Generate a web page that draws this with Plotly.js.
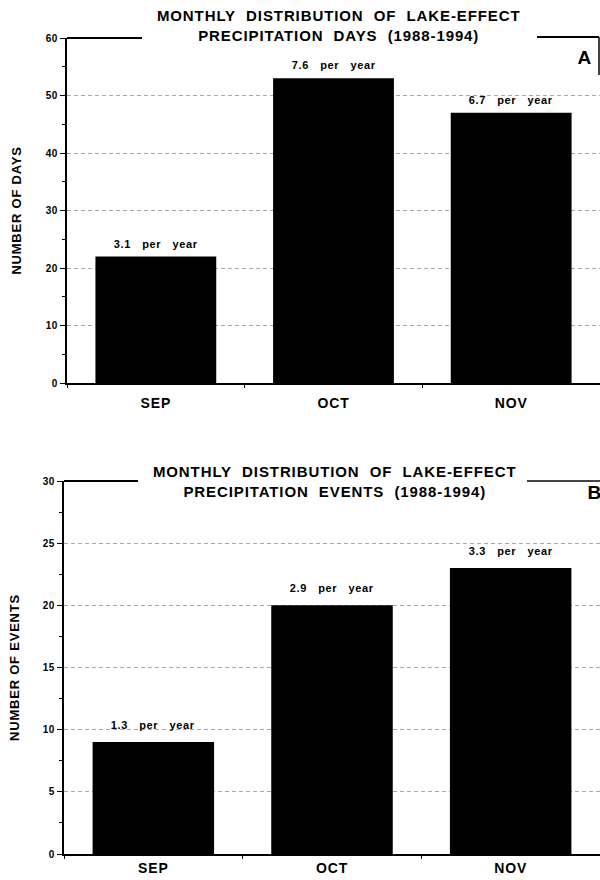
<!DOCTYPE html>
<html>
<head>
<meta charset="utf-8">
<script src="https://cdn.plot.ly/plotly-3.0.1.min.js"></script>
<style>
html,body{margin:0;padding:0;background:#fff;}
#chart{width:600px;height:880px;}
#chart svg text{letter-spacing:0.06em;}
</style>
</head>
<body>
<div id="chart"></div>
<script>
var months = ["SEP", "OCT", "NOV"];
var daysCounts = [22, 53, 47];
var daysPerYear = ["3.1", "7.6", "6.7"];
var eventCounts = [9, 20, 23];
var eventsPerYear = ["1.3", "2.9", "3.3"];
var titleA = "MONTHLY\u00a0 DISTRIBUTION\u00a0 OF\u00a0 LAKE-EFFECT<br>PRECIPITATION\u00a0 DAYS\u00a0 (1988-1994)";
var titleB = "MONTHLY\u00a0 DISTRIBUTION\u00a0 OF\u00a0 LAKE-EFFECT<br>PRECIPITATION\u00a0 EVENTS\u00a0 (1988-1994)";

var FONT = "Liberation Sans, Arial, Helvetica, sans-serif";
function lbl(v){ return v + "\u00a0\u00a0 per\u00a0\u00a0 year"; }

var W = 600, H = 880;
function px(x){ return x / W; }
function py(y){ return 1 - y / H; }

var barCommon = {
  type: "bar",
  marker: {color: "#000", line: {width: 0}},
  width: 0.68,
  hoverinfo: "skip",
  showlegend: false
};

var t1 = Object.assign({}, barCommon, {x: months, y: daysCounts, xaxis: "x", yaxis: "y"});
var t2 = Object.assign({}, barCommon, {x: months, y: eventCounts, xaxis: "x2", yaxis: "y2"});

function yax(domain, range, dtick, title, standoff){
  return {
    domain: domain, range: range, dtick: dtick, tick0: 0,
    showline: true, linecolor: "#000", linewidth: 2,
    ticks: "outside", ticklen: 5, tickwidth: 1, tickcolor: "#000",
    minor: {dtick: dtick/2, ticks: "outside", ticklen: 3, tickcolor: "#000", showgrid: false},
    showgrid: true, gridcolor: "#a8a8a8", gridwidth: 1, griddash: "4px,3px",
    zeroline: false,
    tickfont: {family: FONT, size: 10, color: "#000", weight: "bold"},
    title: {text: title, font: {family: FONT, size: 13, color: "#000", weight: "bold"}, standoff: standoff},
    fixedrange: true
  };
}
function xax(domain, anchor, standoff){
  return {
    domain: domain, anchor: anchor, range: [-0.5, 2.5],
    showline: true, linecolor: "#000", linewidth: 2,
    ticks: "outside", tickson: "boundaries", ticklen: 3, tickcolor: "#000",
    showgrid: false, zeroline: false,
    tickfont: {family: FONT, size: 14, color: "#000", weight: "bold"},
    ticklabelstandoff: standoff,
    fixedrange: true
  };
}

var labelFont = {family: FONT, size: 11, color: "#000", weight: "bold"};
var annotations = [
  {xref: "paper", yref: "paper", x: px(338), y: py(26), xanchor: "center", yanchor: "middle", text: titleA, showarrow: false,
   font: {family: FONT, size: 15, color: "#000", weight: "bold"}, align: "center"},
  {xref: "paper", yref: "paper", x: px(585), y: py(57), xanchor: "center", yanchor: "middle", text: "A", showarrow: false,
   font: {family: FONT, size: 19, color: "#000", weight: "bold"}},
  {xref: "paper", yref: "paper", x: px(334), y: py(481), xanchor: "center", yanchor: "middle", text: titleB, showarrow: false,
   font: {family: FONT, size: 15, color: "#000", weight: "bold"}, align: "center"},
  {xref: "paper", yref: "paper", x: px(586), xanchor: "left", y: py(493), yanchor: "middle", text: "B", showarrow: false,
   font: {family: FONT, size: 19, color: "#000", weight: "bold"}}
];
months.forEach(function(m, i){
  annotations.push({xref: "x", yref: "y", x: m, y: daysCounts[i], yanchor: "bottom", yshift: 5,
    text: lbl(daysPerYear[i]), showarrow: false, font: labelFont});
  annotations.push({xref: "x2", yref: "y2", x: m, y: eventCounts[i], yanchor: "bottom", yshift: 9,
    text: lbl(eventsPerYear[i]), showarrow: false, font: labelFont});
});

var layout = {
  width: W, height: H,
  margin: {l: 0, r: 0, t: 0, b: 0},
  paper_bgcolor: "#fff", plot_bgcolor: "#fff",
  xaxis: xax([px(67), 1], "y", 6),
  yaxis: Object.assign(yax([py(383), py(38)], [0, 60], 10, "NUMBER OF DAYS", 22), {anchor: "x"}),
  xaxis2: xax([px(64), 1], "y2", 0),
  yaxis2: Object.assign(yax([py(854), py(481)], [0, 30], 5, "NUMBER OF EVENTS", 21), {anchor: "x2"}),
  annotations: annotations,
  shapes: [
    {type: "line", xref: "paper", yref: "paper", x0: px(67), x1: px(142), y0: py(38), y1: py(38), line: {color: "#000", width: 2}},
    {type: "line", xref: "paper", yref: "paper", x0: px(537), x1: px(599), y0: py(37), y1: py(37), line: {color: "#000", width: 2}},
    {type: "line", xref: "paper", yref: "paper", x0: px(599), x1: px(599), y0: py(37), y1: py(75), line: {color: "#000", width: 1.5}},
    {type: "line", xref: "paper", yref: "paper", x0: px(64), x1: px(138), y0: py(481), y1: py(481), line: {color: "#000", width: 2}},
    {type: "line", xref: "paper", yref: "paper", x0: px(527), x1: 1, y0: py(481), y1: py(481), line: {color: "#444", width: 2}}
  ]
};

Plotly.newPlot("chart", [t1, t2], layout, {staticPlot: true, displayModeBar: false});
</script>
</body>
</html>
